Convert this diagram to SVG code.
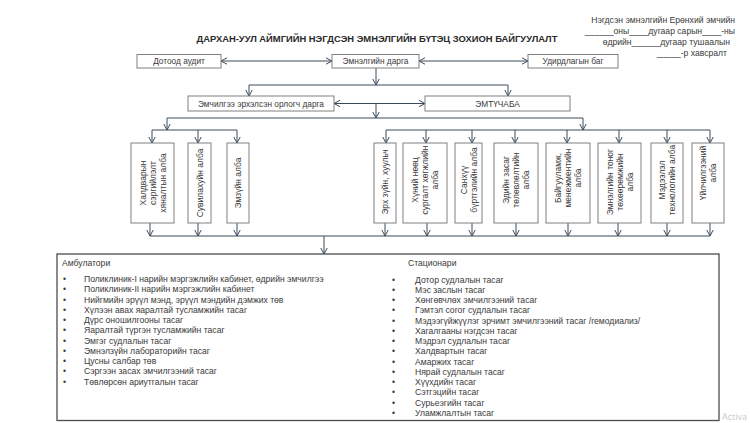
<svg xmlns="http://www.w3.org/2000/svg" width="750" height="423" viewBox="0 0 750 423">
<defs>
<style>
text{font-family:"Liberation Sans",Arial,sans-serif;fill:#3a3a3a;font-size:8.3px}
.lst{font-size:8.6px}
.ap{font-size:8.6px;text-anchor:end}
.box{fill:#fff;stroke:#808080;stroke-width:1}
.c{text-anchor:middle}
.title{font-size:9.4px;font-weight:bold;fill:#2a2a2a}
.con{fill:none;stroke:#3b4a5a;stroke-width:1}
.arr{marker-end:url(#ah)}
.dbl{marker-start:url(#ah);marker-end:url(#ah)}
.vt{font-size:8.5px;text-anchor:middle}
</style>
<marker id="ah" viewBox="0 0 8 8" refX="7.5" refY="4" markerWidth="8" markerHeight="8" markerUnits="userSpaceOnUse" orient="auto-start-reverse">
<path d="M1.5,0.8 L7.5,4 L1.5,7.2" fill="none" stroke="#3b4a5a" stroke-width="1"/>
</marker>
</defs>
<rect width="750" height="423" fill="#fff"/>

<g id="approval">
<text class="ap" x="735" y="23">Нэгдсэн эмнэлгийн Ерөнхий эмчийн</text>
<text class="ap" x="735" y="34">______оны____дугаар сарын____-ны</text>
<text class="ap" x="730" y="45">өдрийн______дугаар тушаалын</text>
<text class="ap" x="727" y="56">_____-р хавсралт</text>
</g>

<text class="title c" x="377" y="42">ДАРХАН-УУЛ АЙМГИЙН НЭГДСЭН ЭМНЭЛГИЙН БҮТЭЦ ЗОХИОН БАЙГУУЛАЛТ</text>

<g id="connectors">
<line class="con dbl" x1="221" y1="61" x2="332" y2="61"/>
<line class="con dbl" x1="419" y1="61" x2="528" y2="61"/>
<line class="con arr" x1="376" y1="68" x2="376" y2="85"/>
<line class="con" x1="249" y1="85" x2="508" y2="85"/>
<line class="con arr" x1="249" y1="85" x2="249" y2="96"/>
<line class="con arr" x1="508" y1="85" x2="508" y2="96"/>
<line class="con dbl" x1="334" y1="103.5" x2="425" y2="103.5"/>
<line class="con arr" x1="376" y1="103.5" x2="376" y2="118"/>
<line class="con" x1="167" y1="118" x2="583" y2="118"/>
<line class="con arr" x1="167" y1="118" x2="167" y2="130"/>
<line class="con arr" x1="583" y1="118" x2="583" y2="130"/>
<line class="con" x1="152" y1="130" x2="237" y2="130"/>
<line class="con arr" x1="152" y1="130" x2="152" y2="143"/>
<line class="con arr" x1="198" y1="130" x2="198" y2="143"/>
<line class="con arr" x1="237" y1="130" x2="237" y2="143"/>
<line class="con" x1="386" y1="130" x2="710" y2="130"/>
<line class="con arr" x1="386" y1="130" x2="386" y2="143"/>
<line class="con arr" x1="426" y1="130" x2="426" y2="143"/>
<line class="con arr" x1="472" y1="130" x2="472" y2="143"/>
<line class="con arr" x1="515" y1="130" x2="515" y2="143"/>
<line class="con arr" x1="567" y1="130" x2="567" y2="143"/>
<line class="con arr" x1="619" y1="130" x2="619" y2="143"/>
<line class="con arr" x1="667" y1="130" x2="667" y2="143"/>
<line class="con arr" x1="710" y1="130" x2="710" y2="143"/>
<line class="con arr" x1="150" y1="223" x2="150" y2="236"/>
<line class="con arr" x1="198" y1="223" x2="198" y2="236"/>
<line class="con arr" x1="237" y1="223" x2="237" y2="236"/>
<line class="con arr" x1="385" y1="223" x2="385" y2="236"/>
<line class="con arr" x1="427" y1="223" x2="427" y2="236"/>
<line class="con arr" x1="472" y1="223" x2="472" y2="236"/>
<line class="con arr" x1="516" y1="223" x2="516" y2="236"/>
<line class="con arr" x1="568" y1="223" x2="568" y2="236"/>
<line class="con arr" x1="618" y1="223" x2="618" y2="236"/>
<line class="con arr" x1="667" y1="223" x2="667" y2="236"/>
<line class="con arr" x1="710" y1="223" x2="710" y2="236"/>
<line class="con" x1="150" y1="236" x2="710" y2="236"/>
<line class="con arr" x1="324" y1="236" x2="324" y2="254"/>
</g>

<g id="n-audit"><rect class="box" x="137" y="54.5" width="84" height="13.5"/><text class="c" x="179" y="64">Дотоод аудит</text></g>
<g id="n-director"><rect class="box" x="332" y="54.5" width="87" height="13.5"/><text class="c" x="375.5" y="64">Эмнэлгийн дарга</text></g>
<g id="n-board"><rect class="box" x="528" y="54.5" width="90" height="13.5"/><text class="c" x="573" y="64">Удирдлагын баг</text></g>
<g id="n-deputy"><rect class="box" x="188" y="96" width="146" height="15"/><text class="c" x="261" y="106.5">Эмчилгээ эрхэлсэн орлогч дарга</text></g>
<g id="n-emtuchaba"><rect class="box" x="425" y="96" width="145" height="15"/><text class="c" x="497.5" y="106.5">ЭМТҮЧАБА</text></g>

<g id="n-infection"><rect class="box" x="131" y="143" width="43" height="80"/>
<text class="vt" transform="translate(152.5,183) rotate(-90)"><tspan x="0" y="-7">Халдварын</tspan><tspan x="0" y="3">сэргийлэлт</tspan><tspan x="0" y="13">хяналтын алба</tspan></text></g>
<g id="n-nursing"><rect class="box" x="188" y="143" width="23" height="80"/>
<text class="vt" transform="translate(199.5,183) rotate(-90)"><tspan x="0" y="3">Сувилахуйн алба</tspan></text></g>
<g id="n-pharmacy"><rect class="box" x="227" y="143" width="22" height="80"/>
<text class="vt" transform="translate(238,183) rotate(-90)"><tspan x="0" y="3">Эмзүйн алба</tspan></text></g>

<g id="n-legal"><rect class="box" x="374" y="143" width="22" height="80"/>
<text class="vt" transform="translate(385,182) rotate(-90)"><tspan x="0" y="3">Эрх зүйн, хуульч</tspan></text></g>
<g id="n-hr"><rect class="box" x="403" y="143" width="44" height="80"/>
<text class="vt" transform="translate(425,180) rotate(-90)"><tspan x="0" y="-7">Хүний нөөц</tspan><tspan x="0" y="3">сургалт хөгжлийн</tspan><tspan x="0" y="13">алба</tspan></text></g>
<g id="n-finance"><rect class="box" x="455" y="143" width="27" height="80"/>
<text class="vt" transform="translate(468.5,180) rotate(-90)"><tspan x="0" y="-2">Санхүү</tspan><tspan x="0" y="8">бүртгэлийн алба</tspan></text></g>
<g id="n-economy"><rect class="box" x="494" y="143" width="44" height="80"/>
<text class="vt" transform="translate(516,180) rotate(-90)"><tspan x="0" y="-7">Эдийн засаг</tspan><tspan x="0" y="3">төлөвлөлтийн</tspan><tspan x="0" y="13">алба</tspan></text></g>
<g id="n-facilities"><rect class="box" x="546" y="143" width="44" height="80"/>
<text class="vt" transform="translate(568,178) rotate(-90)"><tspan x="0" y="-7">Байгууламж,</tspan><tspan x="0" y="3">менежментийн</tspan><tspan x="0" y="13">алба</tspan></text></g>
<g id="n-equipment"><rect class="box" x="598" y="143" width="43" height="80"/>
<text class="vt" transform="translate(619.5,182) rotate(-90)"><tspan x="0" y="-7">Эмнэлгийн тоног</tspan><tspan x="0" y="3">төхөөрөмжийн</tspan><tspan x="0" y="13">алба</tspan></text></g>
<g id="n-it"><rect class="box" x="651" y="143" width="32" height="80"/>
<text class="vt" transform="translate(667,180) rotate(-90)"><tspan x="0" y="-2">Мэдээлэл</tspan><tspan x="0" y="8">технологийн алба</tspan></text></g>
<g id="n-service"><rect class="box" x="692" y="143" width="32" height="80"/>
<text class="vt" transform="translate(708,173) rotate(-90)"><tspan x="0" y="-2">Үйлчилгээний</tspan><tspan x="0" y="8">алба</tspan></text></g>

<g id="n-departments" class="lstg">
<rect x="57" y="254" width="662" height="166.5" fill="#fff" stroke="#4d4d4d" stroke-width="1.3"/>
<text class="lst" x="62" y="266">Амбулатори</text>
<g>
<text class="lst" x="63" y="282">•</text><text class="lst" x="84" y="282">Поликлиник-I  нарийн  мэргэжлийн кабинет, өдрийн эмчилгээ</text>
<text class="lst" x="63" y="292.25">•</text><text class="lst" x="84" y="292.25">Поликлиник-II нарийн мэргэжлийн  кабинет</text>
<text class="lst" x="63" y="302.5">•</text><text class="lst" x="84" y="302.5">Нийгмийн эрүүл мэнд, эрүүл мэндийн дэмжих төв</text>
<text class="lst" x="63" y="312.75">•</text><text class="lst" x="84" y="312.75">Хүлээн авах яаралтай тусламжийн тасаг</text>
<text class="lst" x="63" y="323">•</text><text class="lst" x="84" y="323">Дүрс оношилгооны тасаг</text>
<text class="lst" x="63" y="333.25">•</text><text class="lst" x="84" y="333.25">Яаралтай түргэн тусламжийн тасаг</text>
<text class="lst" x="63" y="343.5">•</text><text class="lst" x="84" y="343.5">Эмгэг судлалын тасаг</text>
<text class="lst" x="63" y="353.75">•</text><text class="lst" x="84" y="353.75">Эмнэлзүйн лабораторийн тасаг</text>
<text class="lst" x="63" y="364">•</text><text class="lst" x="84" y="364">Цусны салбар төв</text>
<text class="lst" x="63" y="374.25">•</text><text class="lst" x="84" y="374.25">Сэргээн засах эмчилгээний тасаг</text>
<text class="lst" x="63" y="384.5">•</text><text class="lst" x="84" y="384.5">Төвлөрсөн ариутгалын тасаг</text>
</g>
<text class="lst" x="408" y="266">Стационари</text>
<g>
<text class="lst" x="392" y="282.5">•</text><text class="lst" x="415" y="282.5">Дотор судлалын тасаг</text>
<text class="lst" x="392" y="292.75">•</text><text class="lst" x="415" y="292.75">Мэс заслын тасаг</text>
<text class="lst" x="392" y="303">•</text><text class="lst" x="415" y="303">Хөнгөвчлөх эмчилгээний тасаг</text>
<text class="lst" x="392" y="313.25">•</text><text class="lst" x="415" y="313.25">Гэмтэл согог судлалын тасаг</text>
<text class="lst" x="392" y="323.5">•</text><text class="lst" x="415" y="323.5">Мэдээгүйжүүлэг эрчимт эмчилгээний тасаг /гемодиализ/</text>
<text class="lst" x="392" y="333.75">•</text><text class="lst" x="415" y="333.75">Хагалгааны нэгдсэн тасаг</text>
<text class="lst" x="392" y="344">•</text><text class="lst" x="415" y="344">Мэдрэл судлалын тасаг</text>
<text class="lst" x="392" y="354.25">•</text><text class="lst" x="415" y="354.25">Халдвартын тасаг</text>
<text class="lst" x="392" y="364.5">•</text><text class="lst" x="415" y="364.5">Амаржих тасаг</text>
<text class="lst" x="392" y="374.75">•</text><text class="lst" x="415" y="374.75">Нярай судлалын тасаг</text>
<text class="lst" x="392" y="385">•</text><text class="lst" x="415" y="385">Хүүхдийн тасаг</text>
<text class="lst" x="392" y="395.25">•</text><text class="lst" x="415" y="395.25">Сэтгэцийн тасаг</text>
<text class="lst" x="392" y="405.5">•</text><text class="lst" x="415" y="405.5">Сурьеэгийн тасаг</text>
<text class="lst" x="392" y="415.75">•</text><text class="lst" x="415" y="415.75">Уламжлалтын тасаг</text>
</g>
</g>

<text x="722" y="420" style="fill:#c8c8c8;font-size:9px;font-family:'Open Sans','Liberation Sans',sans-serif">Activa</text>
</svg>
